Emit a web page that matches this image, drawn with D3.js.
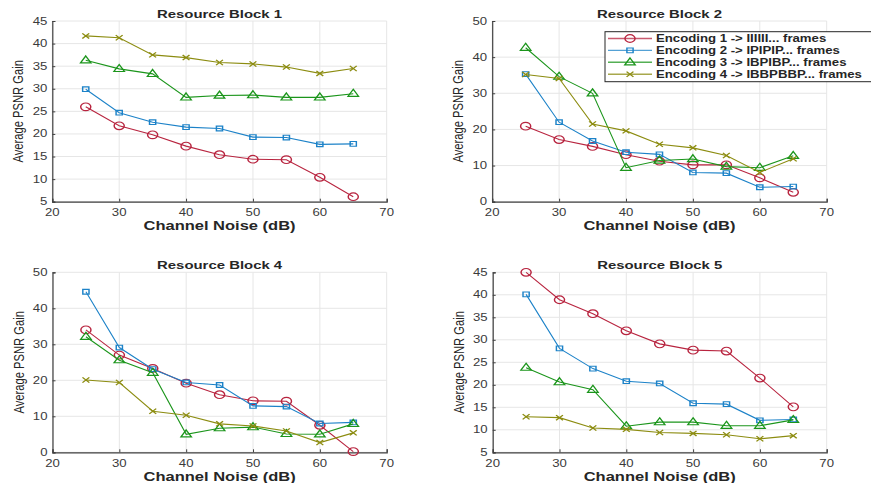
<!DOCTYPE html>
<html>
<head>
<meta charset="utf-8">
<script src="https://cdn.jsdelivr.net/npm/d3@7"></script>
<style>
  body { margin: 0; background: #fff; }
  text { font-family: 'Liberation Sans', Arial, Helvetica, sans-serif; fill: #262626; }
</style>
</head>
<body>
<div id="chart"></div>
<script>
// channel noise values on the x axis (dB)
var noise = [25, 30, 35, 40, 45, 50, 55, 60, 65];
var xTicks = [20, 30, 40, 50, 60, 70];

// series names and colours
var encodings = ['Encoding 1 -> IIIIII... frames', 'Encoding 2 -> IPIPIP... frames',
    'Encoding 3 -> IBPIBP... frames', 'Encoding 4 -> IBBPBBP... frames'];
var encColor = ['#b8243f', '#1c82c8', '#1b951b', '#8c8c10'];
var encMarker = ['circle', 'square', 'triangle', 'cross'];

// Resource Block 1
var rb1Enc1 = [26.0, 21.8, 19.8, 17.3, 15.4, 14.4, 14.3, 10.4, 6.1];
var rb1Enc2 = [29.9, 24.7, 22.6, 21.5, 21.2, 19.3, 19.2, 17.7, 17.8];
var rb1Enc3 = [36.3, 34.4, 33.3, 28.1, 28.5, 28.6, 28.1, 28.1, 28.9];
var rb1Enc4 = [41.7, 41.3, 37.5, 36.9, 35.8, 35.5, 34.8, 33.4, 34.5];

// Resource Block 2
var rb2Enc1 = [20.9, 17.2, 15.3, 13.0, 11.2, 10.2, 10.2, 6.6, 2.6];
var rb2Enc2 = [35.3, 22.0, 16.8, 13.7, 13.1, 8.1, 7.9, 4.0, 4.2];
var rb2Enc3 = [42.6, 34.6, 30.0, 9.4, 11.4, 11.8, 9.7, 9.4, 12.7];
var rb2Enc4 = [35.2, 34.1, 21.5, 19.6, 15.9, 14.9, 12.8, 8.1, 11.9];

// Resource Block 4
var rb4Enc1 = [34.0, 27.0, 23.3, 19.2, 16.0, 14.3, 14.2, 7.5, 0.2];
var rb4Enc2 = [44.6, 29.1, 23.1, 19.4, 18.7, 12.9, 12.7, 8.0, 8.3];
var rb4Enc3 = [32.1, 25.6, 22.1, 5.0, 6.7, 7.0, 5.1, 5.0, 7.9];
var rb4Enc4 = [20.1, 19.4, 11.4, 10.3, 7.9, 7.3, 5.9, 2.7, 5.4];

// Resource Block 5
var rb5Enc1 = [45.0, 38.9, 35.8, 32.0, 29.1, 27.7, 27.5, 21.5, 15.1];
var rb5Enc2 = [40.1, 28.1, 23.6, 20.8, 20.3, 15.9, 15.7, 12.1, 12.3];
var rb5Enc3 = [23.8, 20.6, 18.9, 10.8, 11.7, 11.7, 10.9, 10.9, 12.2];
var rb5Enc4 = [12.9, 12.7, 10.4, 10.1, 9.4, 9.2, 8.9, 8.0, 8.7];

var yTicks1 = [5, 10, 15, 20, 25, 30, 35, 40, 45];
var yTicks2 = [0, 10, 20, 30, 40, 50];

var panels = [
    { title: 'Resource Block 1', series: [rb1Enc1, rb1Enc2, rb1Enc3, rb1Enc4], yTicks: yTicks1 },
    { title: 'Resource Block 2', series: [rb2Enc1, rb2Enc2, rb2Enc3, rb2Enc4], yTicks: yTicks2, legend: true },
    { title: 'Resource Block 4', series: [rb4Enc1, rb4Enc2, rb4Enc3, rb4Enc4], yTicks: yTicks2 },
    { title: 'Resource Block 5', series: [rb5Enc1, rb5Enc2, rb5Enc3, rb5Enc4], yTicks: yTicks1 }
];

var width = 871,
    height = 483;
// the picture is stretched sideways, so text and markers get the same stretch
var sx = 1.32;
// plot boxes (left, top, right, bottom)
var boxes = [
    [52.3, 21, 386.7, 201.7],
    [492.2, 21, 826.7, 201.7],
    [52.5, 272.3, 386.7, 452.3],
    [492.7, 272.3, 826.7, 452.3]
];

var svg = d3.select('#chart').append('svg')
    .attr('width', width)
    .attr('height', height);

// text with horizontal stretch
function addText(g, x, y, str, size, weight, anchor, rotate) {
    var t = 'translate(' + x + ',' + y + ') scale(' + sx + ',1)' + (rotate ? ' rotate(' + rotate + ')' : '');
    return g.append('text')
        .attr('transform', t)
        .attr('text-anchor', anchor || 'middle')
        .attr('dy', '0.35em')
        .style('font-size', size + 'px')
        .style('font-weight', weight || 'normal')
        .text(str);
}

function markerPath(type) {
    if (type == 'circle') return d3.symbol(d3.symbolCircle, 46)();
    if (type == 'square') return d3.symbol(d3.symbolSquare, 22)();
    if (type == 'triangle') return 'M0,-4.4L4,2.6L-4,2.6Z';
    return 'M-2.6,-2.6L2.6,2.6M-2.6,2.6L2.6,-2.6';
}

function drawMarker(g, x, y, i) {
    g.append('path')
        .attr('transform', 'translate(' + x + ',' + y + ') scale(' + sx + ',1)')
        .attr('d', markerPath(encMarker[i]))
        .attr('fill', 'none')
        .attr('stroke', encColor[i])
        .attr('stroke-width', 1.1);
}

panels.forEach(function(p, k) {
    var b = boxes[k];
    var g = svg.append('g');
    var x = d3.scaleLinear().domain([20, 70]).range([b[0], b[2]]);
    var y = d3.scaleLinear().domain(d3.extent(p.yTicks)).range([b[3], b[1]]);

    // grid
    g.selectAll('.gx').data(xTicks).enter().append('line')
        .attr('x1', function(d) { return x(d); }).attr('x2', function(d) { return x(d); })
        .attr('y1', b[1]).attr('y2', b[3])
        .attr('stroke', '#e6e6e6').attr('stroke-width', 1);
    g.selectAll('.gy').data(p.yTicks).enter().append('line')
        .attr('x1', b[0]).attr('x2', b[2])
        .attr('y1', function(d) { return y(d); }).attr('y2', function(d) { return y(d); })
        .attr('stroke', '#e6e6e6').attr('stroke-width', 1);

    // axes (left + bottom), ticks pointing inwards
    var ax = g.append('g').attr('transform', 'translate(0,' + b[3] + ')')
        .call(d3.axisBottom(x).tickValues(xTicks).tickSize(-3).tickFormat(''));
    var ay = g.append('g').attr('transform', 'translate(' + b[0] + ',0)')
        .call(d3.axisLeft(y).tickValues(p.yTicks).tickSize(-3).tickFormat(''));
    [ax, ay].forEach(function(a) {
        a.select('.domain').attr('stroke', '#404040').attr('stroke-width', 1.2);
        a.selectAll('.tick line').attr('stroke', '#404040');
    });

    xTicks.forEach(function(d) {
        addText(g, x(d), b[3] + 11, d, 10).style('fill', '#3a3a3a');
    });
    p.yTicks.forEach(function(d) {
        addText(g, b[0] - 5, y(d), d, 10, 'normal', 'end').style('fill', '#3a3a3a');
    });

    addText(g, (b[0] + b[2]) / 2, b[1] - 7, p.title, 11.3, 'bold');
    addText(g, (b[0] + b[2]) / 2, b[3] + 24, 'Channel Noise (dB)', 12.5, 'bold');
    addText(g, b[0] - 34, (b[1] + b[3]) / 2, 'Average PSNR Gain', 11.2, 'normal', 'middle', -90);

    // series
    var line = d3.line()
        .x(function(d, i) { return x(noise[i]); })
        .y(function(d) { return y(d); });
    p.series.forEach(function(s, i) {
        g.append('path')
            .attr('d', line(s))
            .attr('fill', 'none')
            .attr('stroke', encColor[i])
            .attr('stroke-width', 1.1);
        s.forEach(function(v, j) {
            drawMarker(g, x(noise[j]), y(v), i);
        });
    });

    // legend
    if (p.legend) {
        var lg = g.append('g');
        lg.append('rect')
            .attr('x', 605).attr('y', 31.7)
            .attr('width', 280).attr('height', 50)
            .attr('fill', '#fff').attr('stroke', '#262626').attr('stroke-width', 1);
        encodings.forEach(function(name, i) {
            var ly = 38.5 + i * 11.9;
            lg.append('line')
                .attr('x1', 608).attr('x2', 652)
                .attr('y1', ly).attr('y2', ly)
                .attr('stroke', encColor[i]).attr('stroke-width', 1.4)
                .attr('opacity', 0.75);
            drawMarker(lg, 630, ly, i);
            addText(lg, 656, ly, name, 10, 'bold', 'start');
        });
    }
});
</script>
</body>
</html>
